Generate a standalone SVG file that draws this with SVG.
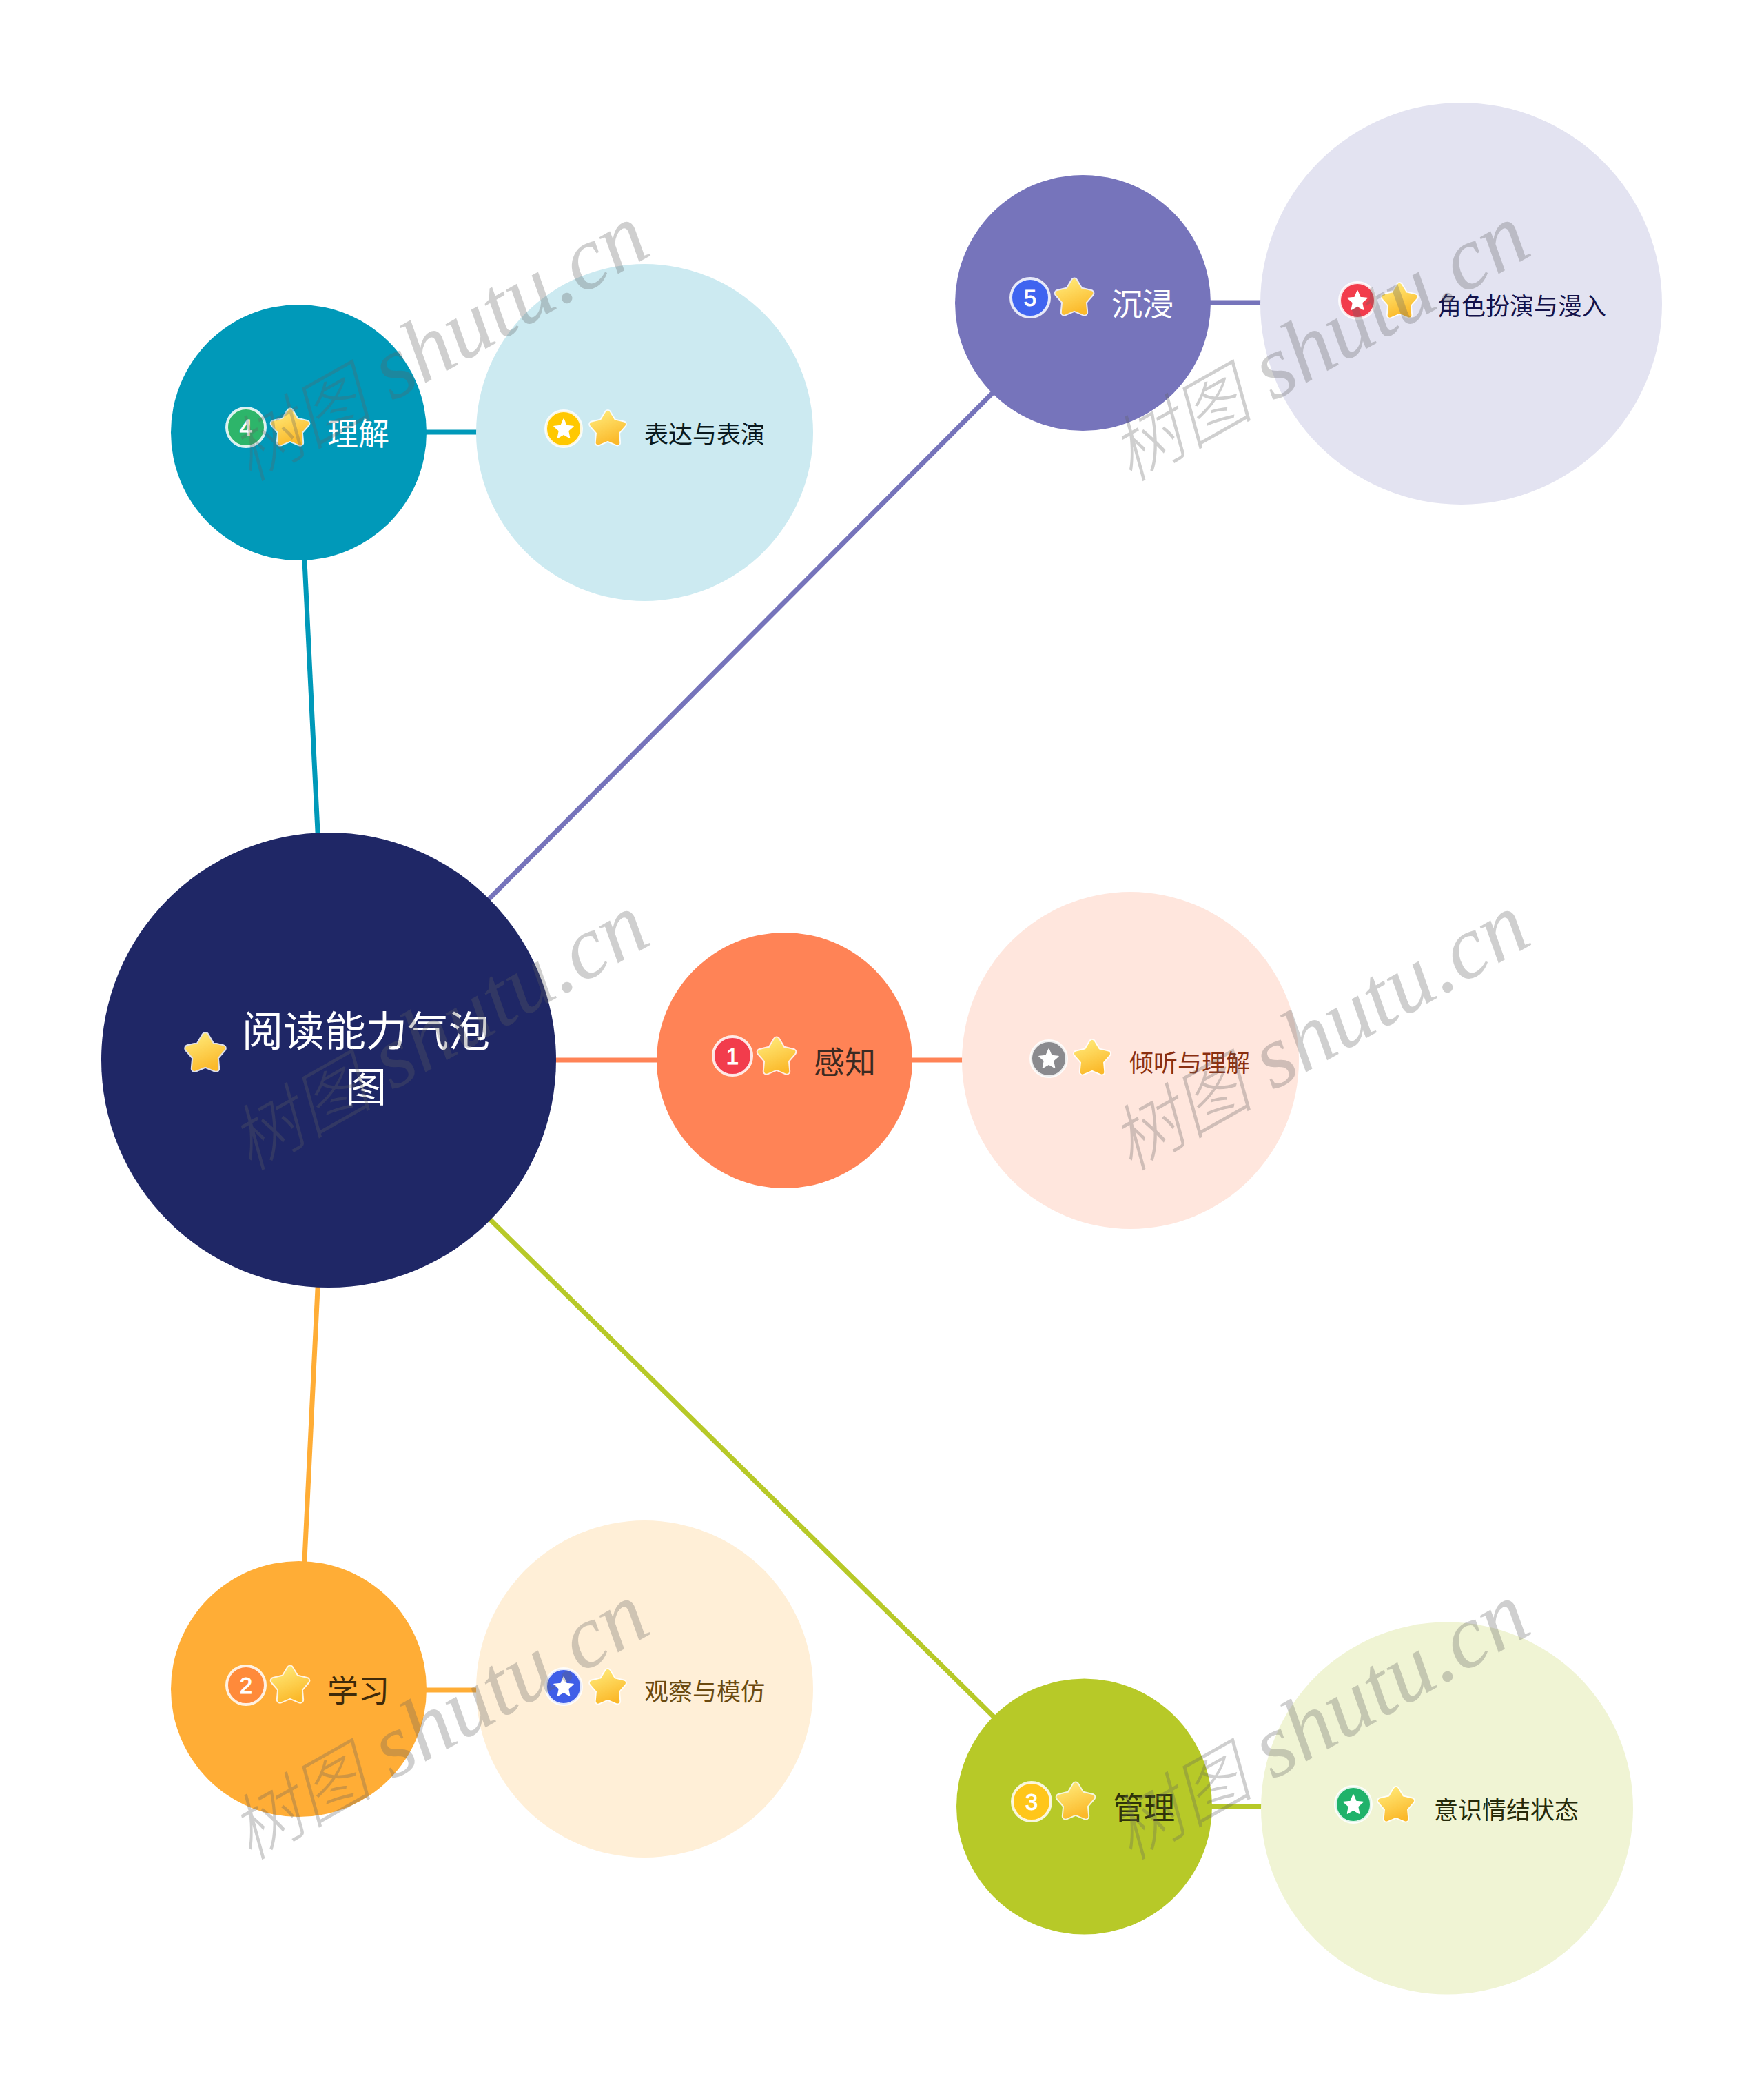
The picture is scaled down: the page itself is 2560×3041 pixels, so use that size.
<svg xmlns="http://www.w3.org/2000/svg" width="2560" height="3041" viewBox="0 0 2560 3041">
<style>
text{font-family:"Noto Sans CJK SC","Liberation Sans",sans-serif}
.l{fill:none;stroke-width:7}
.t0{font-size:60px;fill:#fff;text-anchor:middle}
.t1{font-size:45px;dominant-baseline:central}
.t2{font-size:35px;dominant-baseline:central}
.n{font-size:33px;fill:#fff;text-anchor:middle;font-family:"Liberation Sans",sans-serif;stroke:#fff;stroke-width:1}
.b1{stroke:#fff;stroke-opacity:.85;stroke-width:4}
.wm{fill:#606060;fill-opacity:.3;font-family:"Liberation Serif","Noto Sans CJK SC",serif;font-style:italic}
.wc{font-size:104px;font-family:"Noto Sans CJK SC",sans-serif;font-weight:300}
.wl{font-size:130px}
</style>
<defs>
<linearGradient id="sg" x1="0.25" y1="0" x2="0.65" y2="1"><stop offset="0" stop-color="#ffe673"/><stop offset="1" stop-color="#fbb92a"/></linearGradient>
<g id="star">
<path d="M0-25 8.200-11.300 23.800-7.700 13.300 4.400 14.700 20.200 0 14-14.700 20.200-13.300 4.400-23.800-7.700-8.200-11.300Z" fill="#fff" fill-opacity=".85" stroke="#fff" stroke-opacity=".85" stroke-width="11" stroke-linejoin="round"/>
<path d="M0-25 8.200-11.300 23.800-7.700 13.300 4.400 14.700 20.200 0 14-14.700 20.200-13.300 4.400-23.800-7.700-8.200-11.300Z" fill="url(#sg)" stroke="url(#sg)" stroke-width="7" stroke-linejoin="round"/>
</g>
<path id="mini" d="M0-14 4-4.500 14-3.500 6.500 3 8.500 13 0 8-8.500 13-6.500 3-14-3.500-4-4.500Z" fill="#fff" stroke="#fff" stroke-width="1.500" stroke-linejoin="round"/>
<g id="wmk"><text class="wm"><tspan class="wc">树图</tspan><tspan class="wl" dx="30">shutu.cn</tspan></text></g>
</defs>
<rect width="2560" height="3041" fill="#fff"/>
<g id="connectors">
<line class="l" stroke="#ff8356" x1="477" y1="1538" x2="1138" y2="1538"/>
<line class="l" stroke="#7674bb" x1="477" y1="1538" x2="1571" y2="439"/>
<line class="l" stroke="#0099b9" x1="477" y1="1538" x2="433" y2="627"/>
<line class="l" stroke="#ffad36" x1="477" y1="1538" x2="433" y2="2450"/>
<line class="l" stroke="#b7c928" x1="477" y1="1538" x2="1573" y2="2620"/>
<line class="l" stroke="#ff8356" x1="1138" y1="1538" x2="1640" y2="1538"/>
<line class="l" stroke="#7674bb" x1="1571" y1="439" x2="2120" y2="439"/>
<line class="l" stroke="#0099b9" x1="433" y1="627" x2="935" y2="627"/>
<line class="l" stroke="#ffad36" x1="433" y1="2452" x2="935" y2="2452"/>
<line class="l" stroke="#b7c928" x1="1573" y1="2621" x2="2100" y2="2621"/>
</g>
<g id="root"><circle cx="477" cy="1538" r="330" fill="#1f2766"/><use href="#star" transform="translate(298 1529) scale(1.05)"/><text class="t0" x="531" y="1518">阅读能力气泡</text><text class="t0" x="531" y="1599">图</text></g>
<g id="n1"><circle cx="1138.500" cy="1538.500" r="185.500" fill="#ff8356"/><circle class="b1" cx="1063" cy="1532" r="28" fill="#f23c4c"/><text class="n" x="1063" y="1544">1</text><use href="#star" transform="translate(1127 1534)"/><text class="t1" x="1181" y="1538" fill="#3b2a22">感知</text></g>
<g id="n1a"><circle cx="1640.500" cy="1538.500" r="244.500" fill="#ffe6dd"/><circle class="b1" cx="1522" cy="1536" r="26" fill="#8a8a8e"/><use href="#mini" transform="translate(1522 1536)"/><use href="#star" transform="translate(1585 1536) scale(.95)"/><text class="t2" x="1639" y="1539" fill="#8a2f10">倾听与理解</text></g>
<g id="n5"><circle cx="1571.500" cy="439.500" r="185.500" fill="#7674bb"/><circle class="b1" cx="1495" cy="432" r="28" fill="#3f64f0"/><text class="n" x="1495" y="444">5</text><use href="#star" transform="translate(1559 433)"/><text class="t1" x="1613" y="438" fill="#fff">沉浸</text></g>
<g id="n5a"><circle cx="2120.500" cy="440.500" r="291.500" fill="#e3e3f1"/><circle class="b1" cx="1970" cy="436" r="26" fill="#f23c4c"/><use href="#mini" transform="translate(1970 436)"/><use href="#star" transform="translate(2031 438) scale(.95)"/><text class="t2" x="2086" y="441" fill="#14124a">角色扮演与漫入</text></g>
<g id="n4"><circle cx="433.500" cy="627.500" r="185.500" fill="#0099b9"/><circle class="b1" cx="357" cy="620" r="28" fill="#2db56a"/><text class="n" x="357" y="632">4</text><use href="#star" transform="translate(421 622)"/><text class="t1" x="475" y="626" fill="#fff">理解</text></g>
<g id="n4a"><circle cx="935.500" cy="627.500" r="244.500" fill="#cceaf1"/><circle class="b1" cx="818" cy="622" r="26" fill="#ffc800"/><use href="#mini" transform="translate(818 622)"/><use href="#star" transform="translate(882 623) scale(.95)"/><text class="t2" x="935" y="627" fill="#0a1a20">表达与表演</text></g>
<g id="n2"><circle cx="433.500" cy="2450.500" r="185.500" fill="#ffad36"/><circle class="b1" cx="357" cy="2445" r="28" fill="#ff8a3a"/><text class="n" x="357" y="2457">2</text><use href="#star" transform="translate(421 2446)"/><text class="t1" x="475" y="2450" fill="#3f2a0a">学习</text></g>
<g id="n2a"><circle cx="935.500" cy="2450.500" r="244.500" fill="#ffefd7"/><circle class="b1" cx="818" cy="2447" r="26" fill="#3f5ee8"/><use href="#mini" transform="translate(818 2447)"/><use href="#star" transform="translate(882 2449) scale(.95)"/><text class="t2" x="935" y="2451" fill="#6b4a10">观察与模仿</text></g>
<g id="n3"><circle cx="1573.500" cy="2621" r="185.500" fill="#b7c928"/><circle class="b1" cx="1497" cy="2614" r="28" fill="#ffc61a"/><text class="n" x="1497" y="2626">3</text><use href="#star" transform="translate(1561 2615)"/><text class="t1" x="1615" y="2620" fill="#2f330a">管理</text></g>
<g id="n3a"><circle cx="2100" cy="2623.500" r="270" fill="#f0f4d4"/><circle class="b1" cx="1964" cy="2618" r="26" fill="#1fb26a"/><use href="#mini" transform="translate(1964 2618)"/><use href="#star" transform="translate(2026 2620) scale(.95)"/><text class="t2" x="2081" y="2623" fill="#262a0a">意识情结状态</text></g>
<g id="watermark">
<use href="#wmk" transform="translate(362 700) rotate(-29.500)"/>
<use href="#wmk" transform="translate(1640 700) rotate(-29.500)"/>
<use href="#wmk" transform="translate(362 1700) rotate(-29.500)"/>
<use href="#wmk" transform="translate(1640 1700) rotate(-29.500)"/>
<use href="#wmk" transform="translate(362 2700) rotate(-29.500)"/>
<use href="#wmk" transform="translate(1640 2700) rotate(-29.500)"/>
</g>
</svg>
